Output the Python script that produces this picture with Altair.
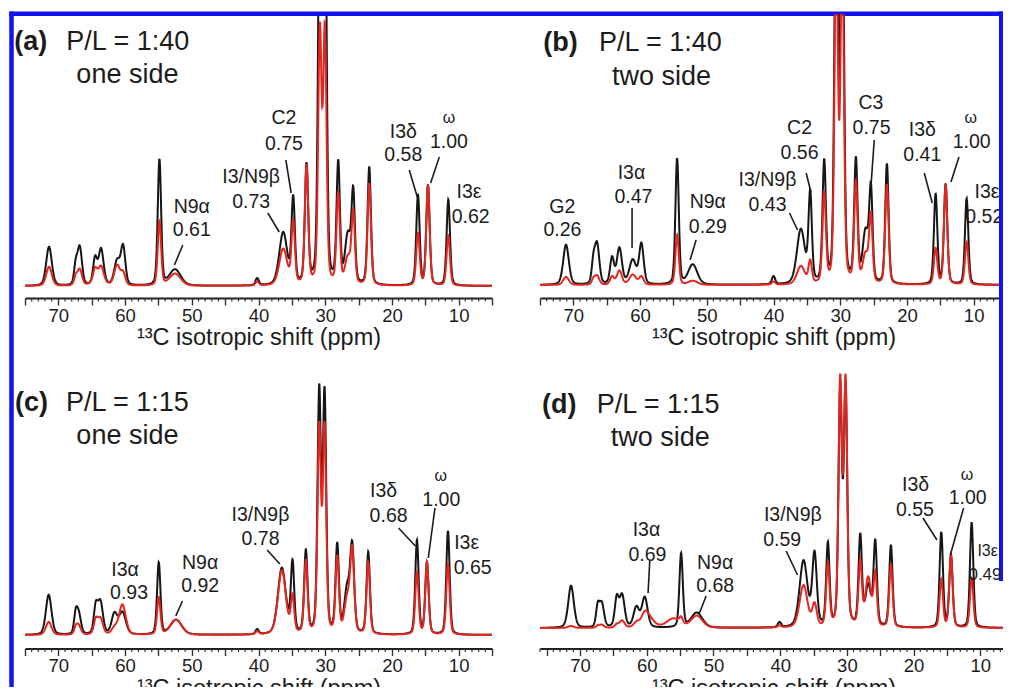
import numpy as np
import pandas as pd
import altair as alt

alt.data_transformers.disable_max_rows()

FONT = "Liberation Sans"
BLACK = "#161616"
RED = "#e3261f"
BLUE = "#1212f2"
TXT = "#1c1c1c"

# ---------------- panel (a): P/L = 1:40, one side ----------------
A_PPM   = [71.4, 67.4, 66.8, 64.5, 63.6, 64.0, 61.2, 60.3, 54.85, 52.5, 40.2, 36.3, 34.8, 32.8, 30.8, 30.05, 28.05, 26.6, 25.8, 23.4, 16.1, 14.6, 11.55]
A_BLACK = [39, 18, 38, 26, 36, 0, 24, 38, 126, 16, 7, 52, 85, 118, 420, 420, 120, 48, 88, 118, 90, 100, 86]
A_RED   = [19, 8, 16, 12, 14, 6, 20, 12, 64, 12, 4, 36, 62, 118, 250, 250, 90, 26, 70, 102, 52, 100, 50]
A_HWHM  = [0.5, 0.3, 0.4, 0.35, 0.45, 1.0, 0.5, 0.4, 0.3, 1.0, 0.3, 0.7, 0.3, 0.3, 0.3, 0.3, 0.3, 0.5, 0.3, 0.3, 0.3, 0.3, 0.3]

# ---------------- panel (b): P/L = 1:40, two side ----------------
B_PPM   = [71.1, 67.0, 66.45, 64.2, 63.1, 61.1, 59.8, 54.45, 52.1, 40.0, 35.9, 34.5, 32.4, 30.6, 29.7, 27.65, 26.2, 25.4, 23.0, 15.7, 14.2, 11.05]
B_BLACK = [40, 20, 40, 26, 36, 24, 40, 126, 20, 8, 54, 88, 120, 430, 430, 122, 50, 90, 120, 90, 100, 86]
B_RED   = [8, 5, 9, 8, 14, 10, 8, 50, 4, 3, 18, 22, 90, 340, 340, 100, 28, 66, 100, 36, 100, 43]
B_HWHM  = [0.5, 0.3, 0.4, 0.35, 0.45, 0.6, 0.4, 0.3, 0.8, 0.3, 0.7, 0.3, 0.3, 0.3, 0.3, 0.3, 0.5, 0.3, 0.3, 0.3, 0.3, 0.3]

# ---------------- panel (c): P/L = 1:15, one side ----------------
C_PPM   = [71.45, 67.4, 66.95, 64.4, 63.7, 61.6, 60.4, 54.95, 52.35, 40.2, 36.5, 34.9, 32.9, 30.9, 30.1, 28.2, 26.7, 25.95, 23.55, 16.25, 14.75, 11.6]
C_BLACK = [40, 18, 20, 26, 32, 20, 22, 72, 15, 5, 66, 70, 82, 240, 237, 88, 44, 82, 82, 94, 72, 104]
C_RED   = [13, 6, 9, 14, 16, 6, 30, 37, 15, 3, 64, 36, 72, 204, 204, 76, 34, 80, 72, 62, 72, 70]
C_HWHM  = [0.5, 0.3, 0.4, 0.35, 0.45, 0.5, 0.6, 0.3, 1.0, 0.3, 0.7, 0.3, 0.3, 0.3, 0.3, 0.3, 0.5, 0.35, 0.3, 0.3, 0.3, 0.3]

# ---------------- panel (d): P/L = 1:15, two side ----------------
D_PPM   = [71.35, 67.35, 66.75, 64.5, 63.7, 61.55, 60.3, 59.9, 56.0, 54.85, 52.5, 40.1, 36.5, 34.85, 32.85, 31.0, 30.2, 28.0, 26.8, 25.75, 23.4, 15.85, 14.4, 11.3]
D_BLACK = [42, 20, 24, 28, 32, 20, 30, 0, 0, 74, 15, 5, 66, 72, 82, 236, 236, 90, 40, 84, 82, 95, 72, 105]
D_RED   = [2, 2, 3, 3, 7, 4, 6, 12, 9, 6, 12, 2, 42, 22, 62, 243, 243, 64, 48, 52, 62, 48, 72, 50]
D_HWHM  = [0.5, 0.3, 0.4, 0.35, 0.45, 0.5, 0.5, 1.0, 1.2, 0.3, 1.0, 0.3, 0.7, 0.4, 0.3, 0.3, 0.3, 0.3, 0.5, 0.3, 0.3, 0.3, 0.3, 0.3]

# ---------------- annotations (ppm, height above baseline) ----------------
A_LAB = ["N9α", "0.61", "I3/N9β", "0.73", "C2", "0.75", "I3δ", "0.58", "ω", "1.00", "I3ε", "0.62"]
A_LX  = [50.0, 50.0, 41.1, 41.1, 36.2, 36.2, 18.3, 18.3, 11.45, 11.45, 8.45, 8.2]
A_LY  = [79, 56, 109, 84, 168, 142, 154, 131, 168, 144, 94, 69]
A_LS  = [19.5, 19.5, 19.5, 19.5, 19.5, 19.5, 19.5, 19.5, 16, 19.5, 19.5, 19.5]
A_L1X = [51.35, 38.6, 35.9, 17.4, 12.9]
A_L1Y = [41, 73, 126, 116, 129]
A_L2X = [52.6, 36.9, 35.1, 16.2, 14.2]
A_L2Y = [21, 54, 93, 89, 103]

B_LAB = ["G2", "0.26", "I3α", "0.47", "N9α", "0.29", "I3/N9β", "0.43", "C2", "0.56", "C3", "0.75", "I3δ", "0.41", "ω", "1.00", "I3ε", "0.52"]
B_LX  = [71.65, 71.65, 61.3, 61.0, 49.85, 49.85, 40.9, 40.9, 36.1, 36.1, 25.4, 25.3, 17.7, 17.7, 10.45, 10.3, 8.0, 8.4]
B_LY  = [78, 55, 112, 88, 83, 58, 105, 80, 157, 132, 182, 157, 155, 130, 167, 143, 93, 68]
B_LS  = [19.5, 19.5, 19.5, 19.5, 19.5, 19.5, 19.5, 19.5, 19.5, 19.5, 19.5, 19.5, 19.5, 19.5, 16, 19.5, 19.5, 19.5]
B_L1X = [61.2, 51.6, 37.6, 35.1, 24.9, 17.4, 12.2]
B_L1Y = [77, 45, 72, 112, 145, 112, 128]
B_L2X = [61.2, 52.5, 36.4, 34.4, 25.4, 16.2, 13.4]
B_L2Y = [37, 25, 55, 93, 98, 82, 103]

C_LAB = ["I3α", "0.93", "N9α", "0.92", "I3/N9β", "0.78", "I3δ", "0.68", "ω", "1.00", "I3ε", "0.65"]
C_LX  = [60.0, 59.4, 48.75, 48.75, 39.7, 39.7, 21.25, 20.5, 12.7, 12.6, 8.8, 7.9]
C_LY  = [65, 42, 72, 49, 120, 96, 144, 119, 159, 135, 92, 67]
C_LS  = [19.5, 19.5, 19.5, 19.5, 19.5, 19.5, 19.5, 19.5, 16, 19.5, 19.5, 19.5]
C_L1X = [51.4, 38.7, 19.0, 13.55]
C_L1Y = [34, 85, 107, 127]
C_L2X = [52.4, 36.8, 16.5, 14.55]
C_L2Y = [19, 71, 89, 77]

D_LAB = ["I3α", "0.69", "N9α", "0.68", "I3/N9β", "0.59", "I3δ", "0.55", "ω", "1.00", "I3ε", "0.49"]
D_LX  = [60.05, 59.9, 49.75, 49.75, 38.1, 39.7, 19.7, 19.8, 12.0, 11.9, 8.9, 9.3]
D_LY  = [98, 73, 65, 42, 113, 88, 143, 118, 153, 130, 77, 53]
D_LS  = [19.5, 19.5, 19.5, 19.5, 19.5, 19.5, 19.5, 19.5, 16, 19.5, 16, 17]
D_L1X = [59.55, 51.1, 39.1, 18.6, 12.5]
D_L1Y = [67, 32, 77, 110, 120]
D_L2X = [59.8, 52.1, 37.4, 16.5, 14.5]
D_L2Y = [35, 15, 53, 88, 73]

# panel headers
A_HEAD = ["(a)", "P/L = 1:40", "one side"]
B_HEAD = ["(b)", "P/L = 1:40", "two side"]
C_HEAD = ["(c)", "P/L = 1:15", "one side"]
D_HEAD = ["(d)", "P/L = 1:15", "two side"]
A_HX, A_HY = [76.6, 68.8, 67.3], [244, 244, 211]
B_HX, B_HY = [74.5, 66.15, 64.2], [242, 242, 208]
C_HX, C_HY = [76.5, 68.85, 67.3], [232, 232, 199]
D_HX, D_HY = [75.7, 67.5, 65.4], [223, 223, 190]

# axis domains
A_XDOM, B_XDOM, C_XDOM, D_XDOM = [75, 5], [75, 5], [75, 5], [76, 6]
A_YDOM, B_YDOM, C_YDOM, D_YDOM = [-12, 272], [-13, 271], [-13.5, 270.5], [-20.5, 263.5]
MAJOR_TICKS = list(range(5, 80, 5))
XTITLE = "¹³C isotropic shift (ppm)"

W, H = 467, 284
GRID = np.round(np.arange(3.0, 78.0001, 0.04), 3)


def profile(ppm, heights, hwhm):
    y = np.zeros_like(GRID)
    for c, a, s in zip(ppm, heights, hwhm):
        d = (GRID - c) / s
        y += a * (0.3 / (1.0 + d * d) + 0.7 * np.exp(-np.log(2.0) * d * d))
    return y


def panel(ppm, hb, hr, hw, xdom, ydom, lab, lx, ly, ls, l1x, l1y, l2x, l2y,
          head, hx, hy, frame=None):
    xs = alt.Scale(domain=xdom, nice=False, zero=False)
    ys = alt.Scale(domain=ydom, nice=False, zero=False)
    axis = alt.Axis(values=MAJOR_TICKS, labelExpr="datum.value % 10 == 0 ? datum.label : ''",
                    tickSize=7, tickWidth=1.4, tickColor="#333", domainWidth=2.2,
                    domainColor="#222", labelFontSize=18.5, labelFont=FONT, labelColor=TXT,
                    labelPadding=1, title=XTITLE, titleFont=FONT, titleFontSize=23.5,
                    titleFontWeight="normal", titleColor=TXT, titlePadding=1, grid=False,
                    labelFlush=False)
    X = alt.X("x:Q", scale=xs, axis=axis)
    Y = alt.Y("y:Q", scale=ys, axis=None)

    dfb = pd.DataFrame({"x": GRID, "y": profile(ppm, hb, hw)})
    dfr = pd.DataFrame({"x": GRID, "y": profile(ppm, hr, hw)})
    lb = alt.Chart(dfb).mark_line(clip=True, strokeWidth=2, color=BLACK).encode(x=X, y=Y)
    lr = alt.Chart(dfr).mark_line(clip=True, strokeWidth=2, color=RED).encode(x=X, y=Y)

    lo, hi = min(xdom), max(xdom)
    minor = pd.DataFrame({"x": [v for v in range(int(lo), int(hi) + 1) if v % 5 != 0]})
    mt = alt.Chart(minor).mark_rule(color="#333", strokeWidth=1.2).encode(
        x=X, y=alt.value(H), y2=alt.value(H + 3.5))

    tdf = pd.DataFrame({"x": lx, "y": ly, "t": lab, "s": ls})
    txt = alt.Chart(tdf).mark_text(font=FONT, color=TXT, align="center", baseline="middle").encode(
        x=X, y=Y, text="t:N", size=alt.Size("s:Q", scale=None))

    ldf = pd.DataFrame({"x": l1x, "y": l1y, "x2": l2x, "y2": l2y})
    lead = alt.Chart(ldf).mark_rule(color=TXT, strokeWidth=1.6).encode(
        x=X, y=Y, x2="x2:Q", y2="y2:Q")

    h1 = pd.DataFrame({"x": hx[:1], "y": hy[:1], "t": head[:1]})
    h2 = pd.DataFrame({"x": hx[1:], "y": hy[1:], "t": head[1:]})
    ht1 = alt.Chart(h1).mark_text(font=FONT, fontSize=27, fontWeight="bold", color=TXT,
                                  align="left", baseline="middle").encode(x=X, y=Y, text="t:N")
    ht2 = alt.Chart(h2).mark_text(font=FONT, fontSize=27, color=TXT,
                                  align="left", baseline="middle").encode(x=X, y=Y, text="t:N")

    layers = [lb, lr, mt, lead, txt, ht1, ht2]
    if frame is not None:
        layers += frame
    return alt.layer(*layers).properties(width=W, height=H)


frame_dummy = pd.DataFrame({"k": [0]})
frame_a = [
    alt.Chart(frame_dummy).mark_rule(color=BLUE, strokeWidth=4.5).encode(
        x=alt.value(-13.5), y=alt.value(-2.4), y2=alt.value(700)),
    alt.Chart(frame_dummy).mark_rule(color=BLUE, strokeWidth=4.5).encode(
        x=alt.value(-15.7), x2=alt.value(990), y=alt.value(-0.2)),
]
frame_b = [
    alt.Chart(frame_dummy).mark_rule(color=BLUE, strokeWidth=4).encode(
        x=alt.value(461), y=alt.value(-2.4), y2=alt.value(567)),
]

pa = panel(A_PPM, A_BLACK, A_RED, A_HWHM, A_XDOM, A_YDOM, A_LAB, A_LX, A_LY, A_LS,
           A_L1X, A_L1Y, A_L2X, A_L2Y, A_HEAD, A_HX, A_HY, frame_a)
pb = panel(B_PPM, B_BLACK, B_RED, B_HWHM, B_XDOM, B_YDOM, B_LAB, B_LX, B_LY, B_LS,
           B_L1X, B_L1Y, B_L2X, B_L2Y, B_HEAD, B_HX, B_HY, frame_b)
pc = panel(C_PPM, C_BLACK, C_RED, C_HWHM, C_XDOM, C_YDOM, C_LAB, C_LX, C_LY, C_LS,
           C_L1X, C_L1Y, C_L2X, C_L2Y, C_HEAD, C_HX, C_HY)
pd_ = panel(D_PPM, D_BLACK, D_RED, D_HWHM, D_XDOM, D_YDOM, D_LAB, D_LX, D_LY, D_LS,
            D_L1X, D_L1Y, D_L2X, D_L2Y, D_HEAD, D_HX, D_HY)

chart = alt.concat(pa, pb, pc, pd_, columns=2, spacing={"row": 66.5, "column": 48},
                   bounds="flush").properties(
    autosize=alt.AutoSizeParams(type="none"),
    padding={"left": 17, "top": 6, "right": 978, "bottom": 673},
    background="white",
).configure_view(stroke=None)

chart.save("out.html", embed_options={"renderer": "svg", "actions": False})
